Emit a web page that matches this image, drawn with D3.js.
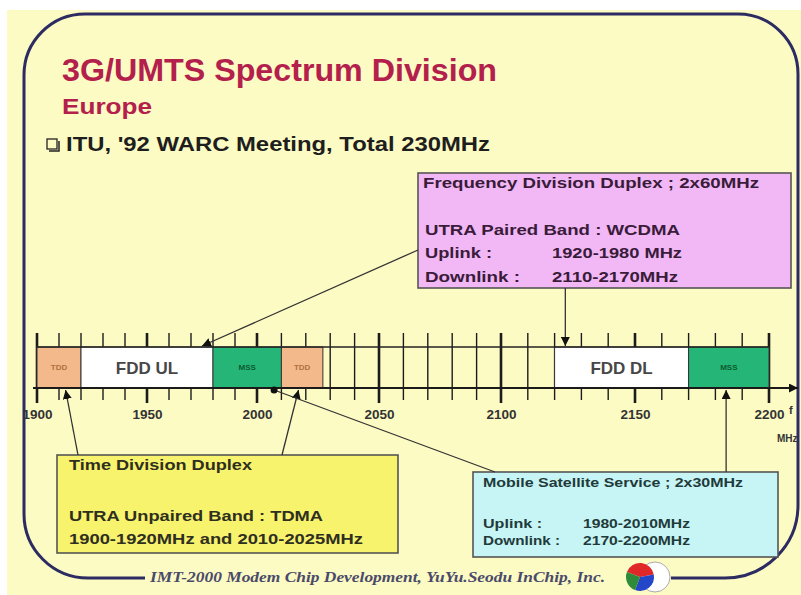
<!DOCTYPE html>
<html>
<head>
<meta charset="utf-8">
<script src="https://cdn.jsdelivr.net/npm/d3@7"></script>
<style>
  body { margin: 0; background: #fff; }
  svg { display: block; }
</style>
</head>
<body>
<svg width="801" height="595"></svg>
<script>
// bands as they are drawn on the slide (MHz)
const bandLabels = ['TDD', 'FDD UL', 'MSS', 'TDD', 'FDD DL', 'MSS'];
const bandFrom = [1900, 1920, 1980, 2010, 2120, 2170];
const bandTo = [1920, 1980, 2010, 2027, 2170, 2200];
const bandKind = ['tdd', 'fdd', 'mss', 'tdd', 'fdd', 'mss'];
const tickLabels = [1900, 1950, 2000, 2050, 2100, 2150, 2200];

// callout texts
const fddText = ['Frequency Division Duplex ; 2x60MHz', 'UTRA Paired Band : WCDMA'];
const fddKeys = ['Uplink :', 'Downlink :'];
const fddVals = ['1920-1980 MHz', '2110-2170MHz'];
const tddText = ['Time Division Duplex', 'UTRA Unpaired Band : TDMA', '1900-1920MHz and 2010-2025MHz'];
const mssText = ['Mobile Satellite Service ; 2x30MHz'];
const mssKeys = ['Uplink :', 'Downlink :'];
const mssVals = ['1980-2010MHz', '2170-2200MHz'];

// frequency each arrow points at
const pointFreq = [1975, 2124, 1913, 2017, 2007, 2184];

const W = 801, H = 595;
const svg = d3.select('svg')
  .attr('font-family', '"Liberation Sans", Arial, sans-serif')
  .attr('font-weight', 'bold');

const kindFill = { tdd: '#f3b98a', fdd: '#ffffff', mss: '#25b677' };

// the slide's axis is hand drawn: spacing grows a bit to the right
const x = d3.scaleLinear()
  .domain([1900, 2000, 2100, 2200])
  .range([37, 257, 501, 769]);

const yTop = 347, yAxis = 388;

// slide text is a little wider than the font, so stretch to the measured width
function label(g, tx, ty, str, len) {
  const t = g.append('text').attr('x', tx).attr('y', ty).text(str);
  if (len) t.attr('textLength', len).attr('lengthAdjust', 'spacingAndGlyphs');
  return t;
}

// background + frame
svg.append('rect').attr('x', 7).attr('y', 10).attr('width', W - 7).attr('height', H - 10)
  .attr('fill', '#fdfbc4');

const defs = svg.append('defs');
defs.append('marker')
  .attr('id', 'head')
  .attr('viewBox', '0 0 10 10')
  .attr('refX', 10).attr('refY', 5)
  .attr('markerWidth', 9).attr('markerHeight', 9)
  .attr('markerUnits', 'userSpaceOnUse')
  .attr('orient', 'auto')
  .append('path').attr('d', 'M0,0L10,5L0,10Z').attr('fill', '#111');

svg.append('path')
  .attr('d', 'M145,578H88A64,64 0 0 1 24,514V75A61,61 0 0 1 85,14H738A60,60 0 0 1 798,74V505A73,73 0 0 1 725,578H671')
  .attr('fill', 'none')
  .attr('stroke', '#2c2b62')
  .attr('stroke-width', 3);

// titles
label(svg, 62, 81, '3G/UMTS Spectrum Division', 435)
  .attr('font-size', 32).attr('fill', '#b3204c');
label(svg, 62, 114, 'Europe', 90)
  .attr('font-size', 22).attr('fill', '#b3204c');
svg.append('rect').attr('x', 47).attr('y', 139).attr('width', 10).attr('height', 10)
  .attr('fill', 'none').attr('stroke', '#222').attr('stroke-width', 1.3);
svg.append('path').attr('d', 'M49,151H59V141').attr('fill', 'none')
  .attr('stroke', '#222').attr('stroke-width', 1.5);
label(svg, 66, 151, "ITU, '92 WARC Meeting, Total 230MHz", 424)
  .attr('font-size', 20).attr('fill', '#1e1e1e');

// ticks (behind bands)
const ticks = x.ticks(30);
svg.append('g').selectAll('line')
  .data(ticks)
  .join('line')
  .attr('x1', d => x(d)).attr('x2', d => x(d))
  .attr('y1', 333)
  .attr('y2', d => (d - 1900) % 50 === 0 ? 403 : 400)
  .attr('stroke', '#1c1c1c')
  .attr('stroke-width', d => (d - 1900) % 50 === 0 ? 2.6 : 1.4);

// bands
const bands = bandLabels.map((name, i) => ({ name, from: bandFrom[i], to: bandTo[i], kind: bandKind[i] }));
const bg = svg.append('g');
bg.selectAll('rect')
  .data(bands)
  .join('rect')
  .attr('x', d => x(d.from))
  .attr('y', yTop)
  .attr('width', d => x(d.to) - x(d.from))
  .attr('height', yAxis - yTop)
  .attr('fill', d => kindFill[d.kind])
  .attr('stroke', '#333')
  .attr('stroke-width', 1);
bg.selectAll('text')
  .data(bands)
  .join('text')
  .attr('x', d => (x(d.from) + x(d.to)) / 2)
  .attr('y', (yTop + yAxis) / 2)
  .attr('dy', '0.36em')
  .attr('text-anchor', 'middle')
  .attr('font-size', d => d.kind === 'fdd' ? 17 : 8)
  .attr('fill', d => d.kind === 'fdd' ? '#474747' : d.kind === 'mss' ? '#0c5a30' : '#b0713f')
  .text(d => d.name);

// horizontal rails
svg.append('line')
  .attr('x1', x(1900)).attr('x2', x(2200))
  .attr('y1', yTop).attr('y2', yTop)
  .attr('stroke', '#222').attr('stroke-width', 1.6);
svg.append('line')
  .attr('x1', x(1900) - 4).attr('x2', 798)
  .attr('y1', yAxis).attr('y2', yAxis)
  .attr('stroke', '#1a1a1a').attr('stroke-width', 2.2)
  .attr('marker-end', 'url(#head)');

// tick labels
const axis = svg.append('g')
  .attr('transform', `translate(0,${yAxis + 21})`)
  .call(d3.axisBottom(x).tickValues(tickLabels).tickSize(0).tickPadding(0).tickFormat(d3.format('d')));
axis.select('.domain').remove();
axis.selectAll('text')
  .attr('font-size', 13.5)
  .attr('font-family', '"Liberation Sans", Arial, sans-serif')
  .attr('font-weight', 'bold')
  .attr('fill', '#333');

svg.append('text').attr('x', 789).attr('y', 414).attr('font-size', 11).attr('fill', '#333').text('f');
svg.append('text').attr('x', 777).attr('y', 442).attr('font-size', 10).attr('fill', '#333').text('MHz');

// callout boxes
function box(bx, by, bw, bh, fill) {
  svg.append('rect').attr('x', bx).attr('y', by).attr('width', bw).attr('height', bh)
    .attr('fill', fill).attr('stroke', '#555').attr('stroke-width', 1.6);
}

box(418, 173, 373, 115, '#f1b8f5');
const fg = svg.append('g').attr('fill', '#3a1b3a').attr('font-size', 14.5);
label(fg, 423, 188, fddText[0], 336);
label(fg, 425, 235, fddText[1], 255);
fddKeys.forEach((k, i) => label(fg, 425, 258 + i * 24, k, [67, 95][i]));
fddVals.forEach((v, i) => label(fg, 552, 258 + i * 24, v, [130, 126][i]));

box(57, 455, 341, 98, '#f8f36d');
const tg = svg.append('g').attr('fill', '#2f2f1f').attr('font-size', 15.5);
tddText.forEach((s, i) => label(tg, 69, [470, 521, 544][i], s, [183, 254, 294][i]));

box(473, 472, 305, 85, '#c7f5f5');
const mg = svg.append('g').attr('fill', '#1f3a3a').attr('font-size', 13);
label(mg, 483, 487, mssText[0], 260);
mssKeys.forEach((k, i) => label(mg, 483, 528 + i * 17, k, [59, 77][i]));
mssVals.forEach((v, i) => label(mg, 583, 528 + i * 17, v, 107));

// arrows: start point on a box, end at a band edge
const starts = [[418, 250], [null, 288], [78, 455], [282, 455], [495, 472], [null, 472]];
const edges = ['top', 'top', 'bottom', 'bottom', 'dot', 'bottom'];
const arrows = pointFreq.map((f, i) => ({
  x1: starts[i][0] === null ? x(f) : starts[i][0],
  y1: starts[i][1],
  x2: x(f),
  y2: edges[i] === 'top' ? yTop - 1 : yAxis + 2,
  kind: edges[i]
}));
svg.append('g').selectAll('line')
  .data(arrows)
  .join('line')
  .attr('x1', d => d.x1).attr('y1', d => d.y1)
  .attr('x2', d => d.x2).attr('y2', d => d.y2)
  .attr('stroke', '#333').attr('stroke-width', 1.3)
  .attr('marker-end', d => d.kind === 'dot' ? null : 'url(#head)');
svg.append('g').selectAll('circle')
  .data(arrows.filter(d => d.kind === 'dot'))
  .join('circle')
  .attr('cx', d => d.x2).attr('cy', d => d.y2).attr('r', 3.5)
  .attr('fill', '#111');

// footer
label(svg, 150, 582, 'IMT-2000 Modem Chip Development, YuYu.Seodu InChip, Inc.', 455)
  .attr('font-family', '"Liberation Serif", "Times New Roman", serif')
  .attr('font-style', 'italic')
  .attr('font-size', 15)
  .attr('fill', '#4a4a6a');

svg.append('circle').attr('cx', 655).attr('cy', 577).attr('r', 15)
  .attr('fill', '#fff').attr('stroke', '#aaa').attr('stroke-width', 1);
const arc = d3.arc().innerRadius(0).outerRadius(14);
const logo = svg.append('g').attr('transform', 'translate(640,577)');
[[-1.2, 1.4, '#e0282a'], [1.4, 3.5, '#2446c8'], [3.5, 5.08, '#2f8a3a']].forEach(([a0, a1, c]) => {
  logo.append('path').attr('d', arc({ startAngle: a0, endAngle: a1 })).attr('fill', c);
});
</script>
</body>
</html>
